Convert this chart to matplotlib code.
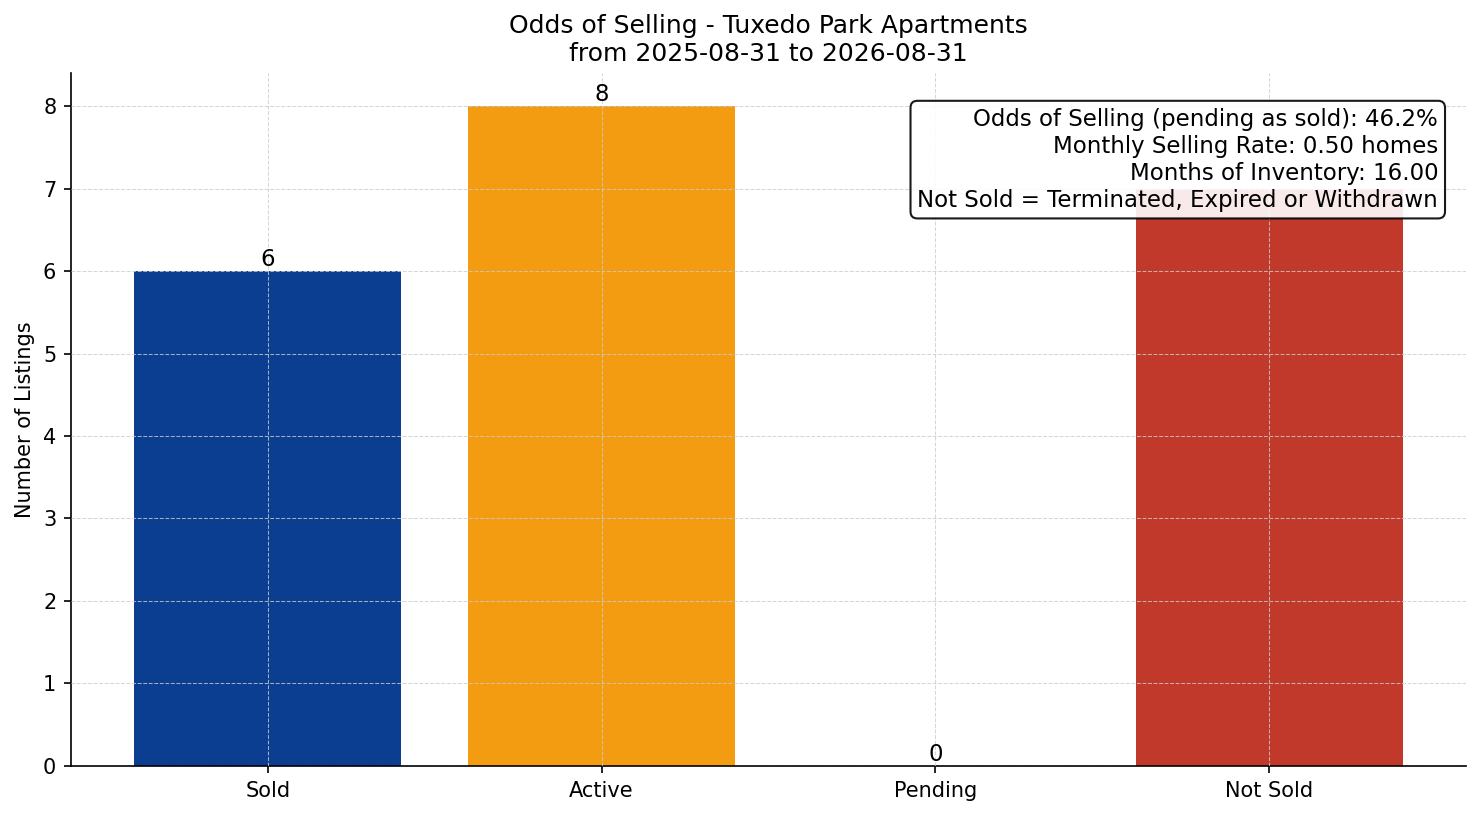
import matplotlib
matplotlib.use("Agg")
import matplotlib.pyplot as plt

categories = ["Sold", "Active", "Pending", "Not Sold"]
counts = [6, 8, 0, 7]
bar_colors = ["#0b3d91", "#f39c12", "#8e44ad", "#c0392b"]
# the "Not Sold" count sits under the info box in the reference, so no label there
shown_labels = ["6", "8", "0", ""]

title = "Odds of Selling - Tuxedo Park Apartments\nfrom 2025-08-31 to 2026-08-31"
info_lines = [
    "Odds of Selling (pending as sold): 46.2%",
    "Monthly Selling Rate: 0.50 homes",
    "Months of Inventory: 16.00",
    "Not Sold = Terminated, Expired or Withdrawn",
]

fig, ax = plt.subplots(figsize=(1481 / 150, 816 / 150), dpi=150)
fig.subplots_adjust(left=0.0479, right=0.9899, top=0.9105, bottom=0.0613)

bars = ax.bar(categories, counts, color=bar_colors, width=0.8)
ax.bar_label(bars, labels=shown_labels, fontsize=11, padding=0)

ax.set_title(title, fontsize=12)
ax.set_ylabel("Number of Listings", fontsize=10)
ax.grid(True, linestyle="--", linewidth=0.5, color="#cccccc", alpha=0.8)
ax.set_axisbelow(False)
ax.spines["top"].set_visible(False)
ax.spines["right"].set_visible(False)

ax.text(0.98, 0.95, "\n".join(info_lines), transform=ax.transAxes,
        ha="right", va="top", fontsize=11, zorder=10, linespacing=1.22,
        bbox=dict(boxstyle="round,pad=0.3", facecolor="white",
                  edgecolor="black", alpha=0.9, linewidth=1.0))

fig.savefig("out.png", dpi=150)
